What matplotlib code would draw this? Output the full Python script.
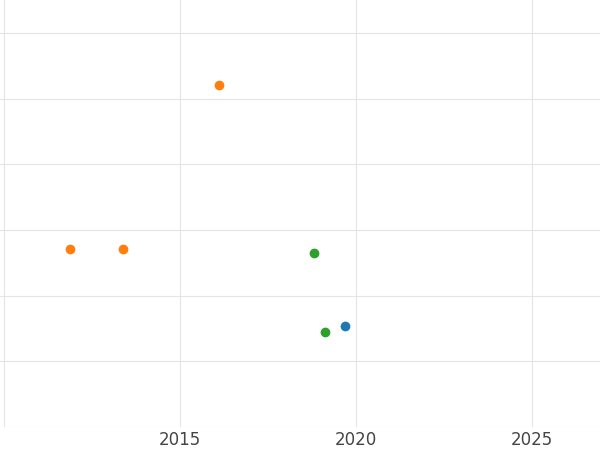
import matplotlib
matplotlib.use("Agg")
import matplotlib.pyplot as plt

years_orange = [2011.88, 2013.38, 2016.11]
vals_orange = [2.71, 2.71, 5.2]
years_green = [2018.81, 2019.12]
vals_green = [2.65, 1.45]
years_blue = [2019.69]
vals_blue = [1.54]
xticks = [2015, 2020, 2025]

fig = plt.figure(figsize=(6, 4.5), dpi=100)
ax = fig.add_axes([0, 23/450, 1, 427/450])
ax.scatter(years_orange, vals_orange, color="#ff7f0e", s=36, zorder=3)
ax.scatter(years_green, vals_green, color="#2ca02c", s=36, zorder=3)
ax.scatter(years_blue, vals_blue, color="#1f77b4", s=36, zorder=3)
ax.set_xlim(2009.89, 2026.93)
ax.set_ylim(0, 6.5)
ax.set_xticks([2010] + xticks)
ax.set_xticklabels([""] + [str(t) for t in xticks])
ax.set_yticks(range(0, 7))
ax.tick_params(length=0, labelsize=12, labelcolor="#444444", labelleft=False, pad=3)
ax.grid(True, color="#e5e5e5", linewidth=0.8)
ax.set_axisbelow(True)
for s in ax.spines.values():
    s.set_visible(False)
fig.savefig("out.png")
